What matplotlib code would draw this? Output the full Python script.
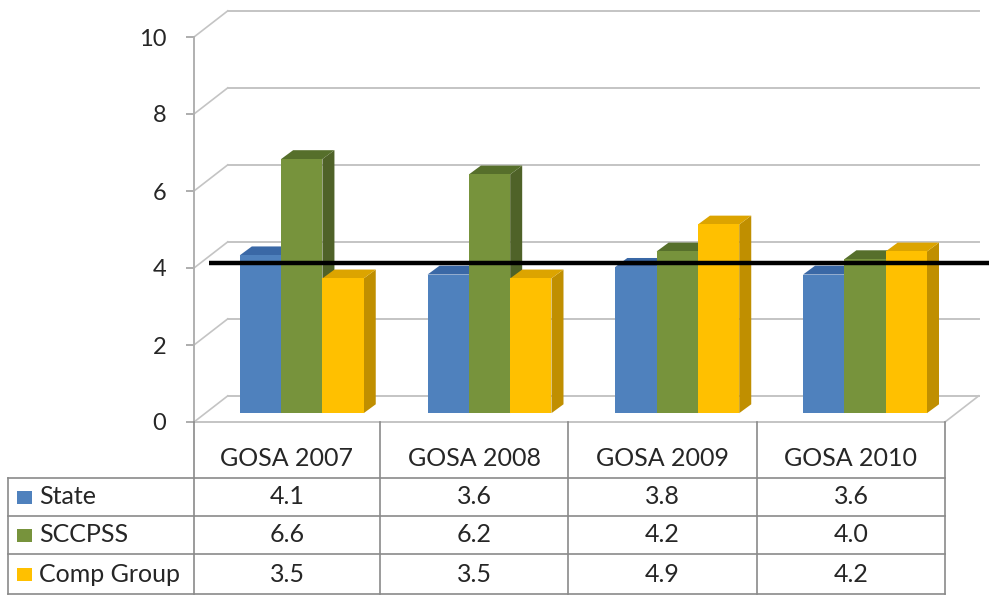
import matplotlib
matplotlib.use("Agg")
import matplotlib.pyplot as plt
from matplotlib.patches import Polygon, Rectangle

# data
categories = ["GOSA 2007", "GOSA 2008", "GOSA 2009", "GOSA 2010"]
series_names = ["State", "SCCPSS", "Comp Group"]
state = [4.1, 3.6, 3.8, 3.6]
sccpss = [6.6, 6.2, 4.2, 4.0]
comp_group = [3.5, 3.5, 4.9, 4.2]
target = 4.0
y_ticks = [0, 2, 4, 6, 8, 10]

series_values = [state, sccpss, comp_group]
# front, side, top colours per series
colors = [
    ("#4f81bd", "#2f5a8f", "#3a68a6"),
    ("#77933c", "#4f6228", "#566f2b"),
    ("#ffc000", "#c08f00", "#dca400"),
]

FONT = "Lato"
TXT = "#262626"
GRID = "#c4c4c4"
LINE = "#8a8a8a"
FS = 18

# fake 3-D depth (in data units of the front plane)
WALL_DX, WALL_DY = 0.18, 0.68
BAR_DX, BAR_DY = 0.064, 0.23
BAR_START, BAR_W = 0.18, 0.22
LINE_DY = 0.13

fig = plt.figure(figsize=(9.89, 6.06), dpi=100)
W, H = 989, 606
ax = fig.add_axes([194 / W, (H - 422) / H, 751 / W, 385 / H])
ax.set_xlim(0, len(categories))
ax.set_ylim(0, 10)

# back wall gridlines + diagonals to the front axis
for v in y_ticks:
    ax.plot([WALL_DX, len(categories) + WALL_DX], [v + WALL_DY, v + WALL_DY],
            color=GRID, lw=1.4, clip_on=False, zorder=1)
    ax.plot([0, WALL_DX], [v, v + WALL_DY], color=GRID, lw=1.2, clip_on=False, zorder=1)
# floor
ax.plot([0, len(categories)], [0, 0], color=GRID, lw=1.4, clip_on=False, zorder=1)
ax.plot([len(categories), len(categories) + WALL_DX], [0, WALL_DY],
        color=GRID, lw=1.2, clip_on=False, zorder=1)

# bars, left to right so each front hides the previous side face
for i in range(len(categories)):
    for j, vals in enumerate(series_values):
        front, side, top = colors[j]
        x0 = i + BAR_START + BAR_DX + j * BAR_W
        x1 = x0 + BAR_W
        y0 = BAR_DY
        y1 = BAR_DY + vals[i]
        ax.add_patch(Polygon([(x1, y0), (x1 + BAR_DX, y0 + BAR_DY),
                              (x1 + BAR_DX, y1 + BAR_DY), (x1, y1)],
                             closed=True, facecolor=side, edgecolor="none", zorder=3))
        ax.add_patch(Polygon([(x0, y1), (x1, y1), (x1 + BAR_DX, y1 + BAR_DY),
                              (x0 + BAR_DX, y1 + BAR_DY)],
                             closed=True, facecolor=top, edgecolor="none", zorder=3))
        ax.add_patch(Rectangle((x0, y0), BAR_W, vals[i], facecolor=front,
                               edgecolor="none", zorder=3))

# target line
ax.plot([0.08, 4.24], [target + LINE_DY, target + LINE_DY], color="black",
        lw=3.2, clip_on=False, zorder=5, solid_capstyle="butt")

ax.set_xticks([])
ax.set_yticks(y_ticks)
ax.set_yticklabels([str(t) for t in y_ticks], fontname=FONT, fontsize=17, color=TXT)
ax.tick_params(axis="y", length=6, width=1.2, color="#a0a0a0", pad=14)
for s in ["top", "right", "bottom"]:
    ax.spines[s].set_visible(False)
ax.spines["left"].set_color("#b0b0b0")
ax.spines["left"].set_linewidth(1.4)
ax.patch.set_visible(False)

# data table underneath, in pixel space
tax = fig.add_axes([0, 0, 1, 1])
tax.set_xlim(0, W)
tax.set_ylim(H, 0)
tax.axis("off")
tax.patch.set_visible(False)

col_edges = [8, 194, 380, 568, 757, 945]
row_edges = [422, 478, 516, 554, 594]

for x in col_edges[1:]:
    tax.plot([x, x], [row_edges[0], row_edges[-1]], color=LINE, lw=1.2)
tax.plot([col_edges[0], col_edges[0]], [row_edges[1], row_edges[-1]], color=LINE, lw=1.2)
for y in row_edges[1:]:
    tax.plot([col_edges[0], col_edges[-1]], [y, y], color=LINE, lw=1.2)

for k, name in enumerate(categories):
    cx = (col_edges[k + 1] + col_edges[k + 2]) / 2
    tax.text(cx, 459, name, ha="center", va="center", fontname=FONT, fontsize=FS, color=TXT)

for r, (name, vals) in enumerate(zip(series_names, series_values)):
    cy = (row_edges[r + 1] + row_edges[r + 2]) / 2
    tax.add_patch(Rectangle((17, cy - 6), 15, 13, facecolor=colors[r][0], edgecolor="none"))
    tax.text(39, cy, name, ha="left", va="center", fontname=FONT, fontsize=FS, color=TXT)
    for k, v in enumerate(vals):
        cx = (col_edges[k + 1] + col_edges[k + 2]) / 2
        tax.text(cx, cy, f"{v:.1f}", ha="center", va="center", fontname=FONT,
                 fontsize=FS, color=TXT)

fig.savefig("out.png", dpi=100, facecolor="white")
